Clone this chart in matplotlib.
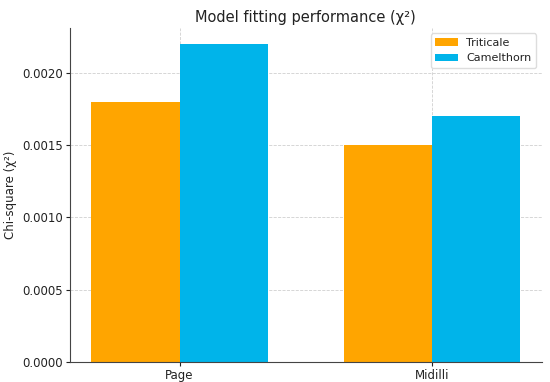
import numpy as np
import matplotlib
matplotlib.use('Agg')
import matplotlib.pyplot as plt

models = ['Page', 'Midilli']
triticale = [0.0018, 0.0015]
camelthorn = [0.0022, 0.0017]

x = np.arange(len(models))
w = 0.35

plt.rcParams['text.color'] = '#222222'
plt.rcParams['axes.labelcolor'] = '#222222'
plt.rcParams['xtick.color'] = '#222222'
plt.rcParams['ytick.color'] = '#222222'

fig, ax = plt.subplots(figsize=(5.5, 3.82), dpi=100)
fig.subplots_adjust(left=0.127, right=0.985, bottom=0.052, top=0.927)

ax.bar(x - w / 2, triticale, w, color='#FFA500', label='Triticale', zorder=2)
ax.bar(x + w / 2, camelthorn, w, color='#00B4EA', label='Camelthorn', zorder=2)

ax.set_xticks(x)
ax.set_xticklabels(models)
ax.set_yticks([0, 0.0005, 0.001, 0.0015, 0.002])
ax.yaxis.set_major_formatter(matplotlib.ticker.FormatStrFormatter('%.4f'))
ax.set_ylabel('Chi-square (χ²)', fontsize=8.5, labelpad=4)
ax.set_title('Model fitting performance (χ²)', fontsize=10.5, pad=4)
ax.grid(True, linestyle='--', color='#d0d0d0', linewidth=0.6, zorder=0)
ax.spines['top'].set_visible(False)
ax.spines['right'].set_visible(False)
ax.spines['left'].set_color('#444444')
ax.spines['bottom'].set_color('#444444')
ax.tick_params(labelsize=8.5, length=3, pad=2)
ax.legend(loc='upper right', fontsize=8, framealpha=1, edgecolor='#dddddd')

plt.savefig('out.png')
